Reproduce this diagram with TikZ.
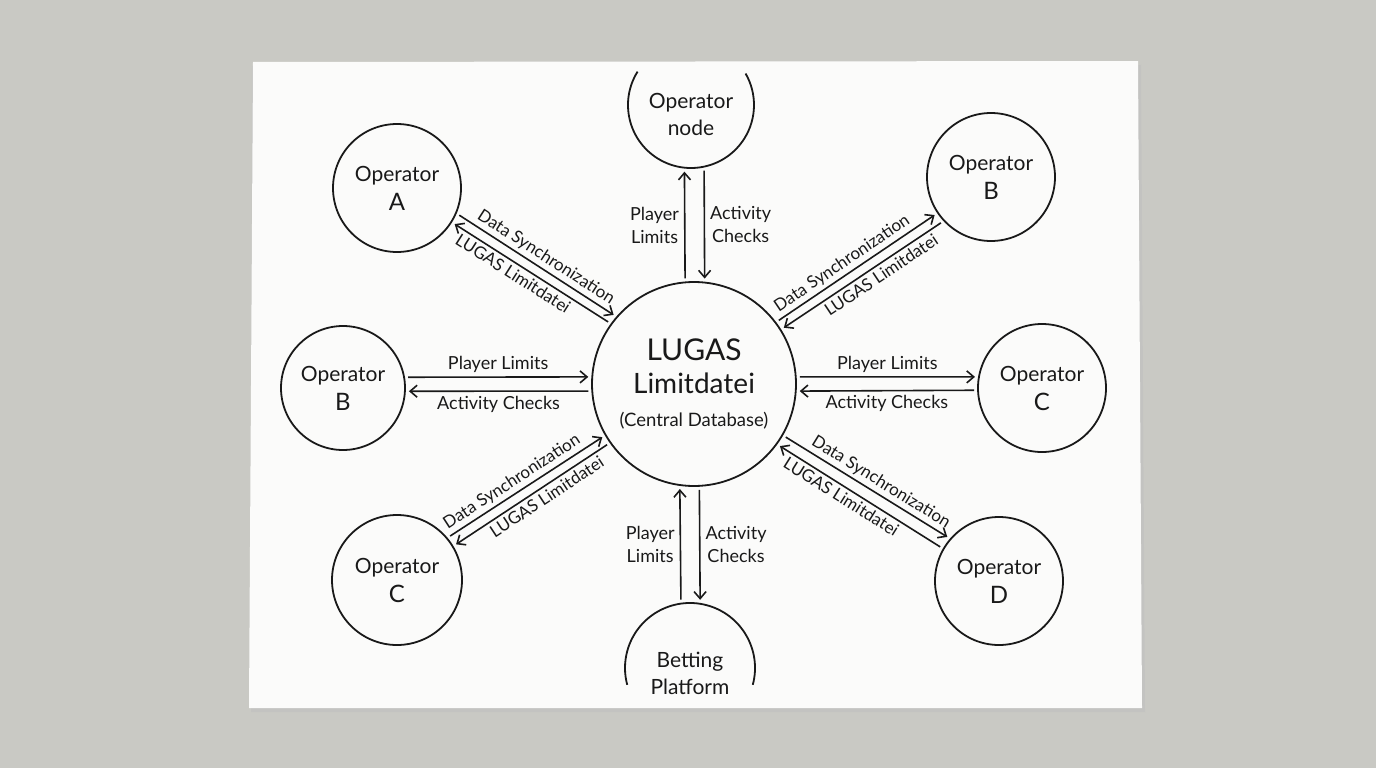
\documentclass[tikz,border=0pt]{standalone}
\usepackage{fontspec}
\setmainfont{Lato}
\usetikzlibrary{arrows.meta}
\definecolor{concrete}{RGB}{201,201,196}
\definecolor{paper}{RGB}{251,251,250}
\definecolor{ink}{RGB}{25,25,25}
\begin{document}
\begin{tikzpicture}[x=1pt,y=-1pt,
  every node/.style={text=ink},
  sat/.style={circle, draw=ink, line width=1.8pt, inner sep=0pt, outer sep=0pt, minimum size=128pt, align=center, font=\fontsize{21}{29}\selectfont},
  open/.style={circle, draw=none, inner sep=0pt, outer sep=0pt},
  opentext/.style={align=center, font=\fontsize{21}{27}\selectfont},
  hub/.style={circle, draw=ink, line width=1.8pt, inner sep=0pt, outer sep=0pt, minimum size=204pt, align=center, font=\fontsize{28}{33}\selectfont},
  link/.style={draw=ink, line width=1.6pt, shorten <=4pt, shorten >=4pt, arrows={-Straight Barb[length=7pt,width=12pt]}},
  back/.style={arrows={Straight Barb[length=7pt,width=12pt]-}},
  lab/.style={font=\fontsize{18}{23}\selectfont, align=center},
  dlab/.style={font=\fontsize{17}{20}\selectfont, sloped, inner sep=3pt}]
% background and paper
\fill[concrete] (0,0) rectangle (1376,768);
\fill[black!25, opacity=0.5] (252,66) -- (1141,65) -- (1145,712) -- (251,712) -- cycle;
\fill[paper] (253,62) -- (1138,61) -- (1142,708) -- (249,708) -- cycle;

% nodes
\node[hub] (C0) at (694,384) {{\fontsize{30}{34}\selectfont LUGAS}\\{\fontsize{28}{32}\selectfont Limitdatei}\\{\fontsize{18.5}{22}\selectfont (Central Database)}};
\node[sat] (A) at (397,188) {Operator\\{\fontsize{24}{26}\selectfont A}};
\node[sat] (B) at (991,177) {Operator\\{\fontsize{24}{26}\selectfont B}};
\node[sat, minimum size=124pt] (BL) at (343,388) {Operator\\{\fontsize{24}{26}\selectfont B}};
\node[sat] (CR) at (1042,388) {Operator\\{\fontsize{24}{26}\selectfont C}};
\node[sat, minimum size=130pt] (CL) at (397,580) {Operator\\{\fontsize{24}{26}\selectfont C}};
\node[sat] (D) at (999,581) {Operator\\{\fontsize{24}{26}\selectfont D}};
\node[open, minimum size=126pt] (T) at (691,105) {};
\node[opentext] (Tt) at (691,114) {Operator\\node};
\node[open, minimum size=130pt] (P) at (690,668) {};
\node[opentext] (Pt) at (690,673) {Betting\\Platform};
\begin{scope}[y=1pt]
\draw[ink, line width=1.8pt] (T.148) arc[start angle=148, end angle=390, radius=63];
\draw[ink, line width=1.8pt] (P.-15) arc[start angle=-15, end angle=195, radius=65];
\end{scope}

% vertical links, top
\draw[link] (C0.95) -- node[lab, left, inner sep=5pt] {Player\\Limits} (T.264.5);
\draw[link] (T.282) -- node[lab, right, inner sep=5pt] {Activity\\Checks} (C0.84.4);
% vertical links, bottom
\draw[link] (P.98) -- node[lab, left, inner sep=5pt] {Player\\Limits} (C0.262.7);
\draw[link] (C0.273.4) -- node[lab, right, inner sep=5pt] {Activity\\Checks} (P.81);
% horizontal links, left
\draw[link] (BL.10.2) -- node[lab, above, inner sep=4pt] {Player Limits} (C0.176);
\draw[link] (C0.184.5) -- node[lab, below, inner sep=4pt] {Activity Checks} (BL.-3.7);
% horizontal links, right
\draw[link] (C0.4) -- node[lab, above, inner sep=4pt] {Player Limits} (CR.170);
\draw[link] (CR.182.7) -- node[lab, below, inner sep=4pt] {Activity Checks} (C0.-4);
% diagonal, upper left
\draw[link] (A.-23.9) -- node[dlab, above, pos=0.52] {Data Synchronization} (C0.139.6);
\draw[link, back] (A.-32.5) -- node[dlab, below, pos=0.42] {LUGAS Limitdatei} (C0.144.5);
% diagonal, upper right
\draw[link] (C0.37.5) -- node[dlab, above, pos=0.45] {Data Synchronization} (B.214.2);
\draw[link, back] (C0.32) -- node[dlab, below, pos=0.58] {LUGAS Limitdatei} (B.223.2);
% diagonal, lower left
\draw[link] (CL.40.3) -- node[dlab, above, pos=0.45] {Data Synchronization} (C0.210);
\draw[link, back] (CL.31.1) -- node[dlab, below, pos=0.56] {LUGAS Limitdatei} (C0.215.9);
% diagonal, lower right
\draw[link] (C0.-30.7) -- node[dlab, above, pos=0.55] {Data Synchronization} (D.139.8);
\draw[link, back] (C0.-36.7) -- node[dlab, below, pos=0.42] {LUGAS Limitdatei} (D.150);
\end{tikzpicture}
\end{document}
